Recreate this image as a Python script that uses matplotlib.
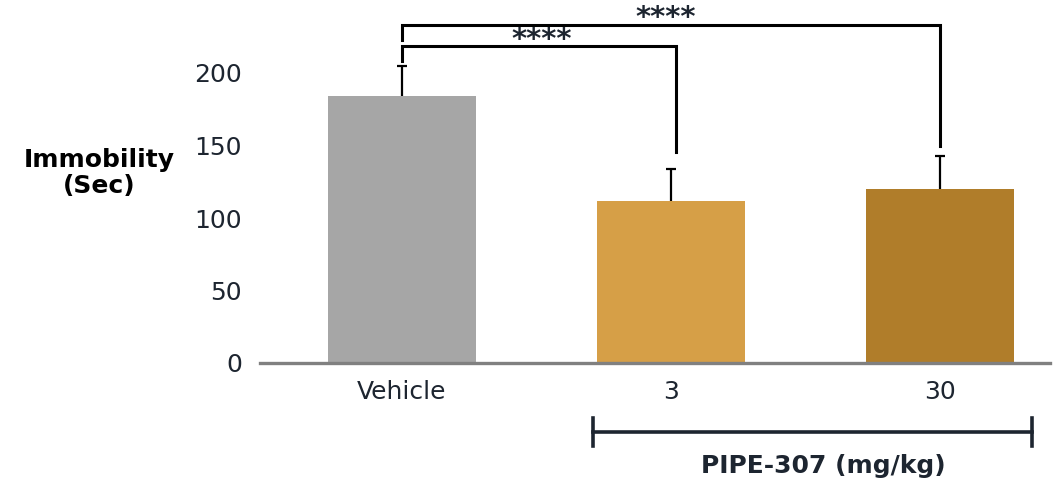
import matplotlib
matplotlib.use("Agg")
import matplotlib.pyplot as plt
import numpy as np

categories = ["Vehicle", "3", "30"]
means = [184, 112, 120]
errors = [21, 22, 23]
colors = ["#A6A6A6", "#D69F47", "#B07D2A"]
yticks = [0, 50, 100, 150, 200]
group_label = "PIPE-307 (mg/kg)"
ylabel = "Immobility\n(Sec)"
sig_label = "****"

plt.rcParams['font.family'] = ['DejaVu Sans']
W, H = 1056, 482
fig = plt.figure(figsize=(W / 100, H / 100), dpi=100)
ax = fig.add_axes([260 / W, (H - 363) / H, 790 / W, 362.5 / H])

x = np.arange(len(categories))
m = np.array(means)
e = np.array(errors)
ax.bar(x, m, width=0.55, color=colors, zorder=2)
ax.vlines(x, m, m + e, color='black', lw=1.6, zorder=3)
ax.plot(x, m + e, ls='none', marker='_', ms=7.5, mew=1.6, color='black', zorder=3)

ax.set_xlim(-0.527, 2.41)
ax.set_ylim(0, 250)
ax.set_yticks(yticks)
ax.set_yticklabels([str(t) for t in yticks], fontsize=18, color="#1d2530")
ax.set_xticks(x)
ax.set_xticklabels(categories, fontsize=18, color="#1d2530")
ax.tick_params(axis='both', length=0)
ax.tick_params(axis='y', pad=13)
ax.tick_params(axis='x', pad=12)
for s in ['top', 'right', 'left']:
    ax.spines[s].set_visible(False)
ax.spines['bottom'].set_color('#808080')
ax.spines['bottom'].set_linewidth(2.4)

# y label
fig.text(99 / W, 1 - 173 / H, ylabel, ha='center', va='center',
         fontsize=18, fontweight='bold', color='black', linespacing=1.15)

# significance brackets
def bracket(x0, x1, y, y0, y1, label, lx, ly):
    ax.plot([x0, x0, x1, x1], [y0, y, y, y1], color='black', lw=2.2,
            clip_on=False, zorder=4, solid_joinstyle='miter')
    ax.text(lx, ly, label, ha='center', va='baseline', fontsize=21,
            fontweight='bold', color='#1d2530', clip_on=False)

bracket(0, 2, 233, 223, 150, sig_label, 0.983, 232.5)
bracket(0, 1.02, 218.6, 208, 145.5, sig_label, 0.519, 217.5)

# group bracket below axis
t = ax.get_xaxis_transform()
gx0, gx1 = 0.712, 2.344
ly = -69 / 362.5
ax.plot([gx0, gx1], [ly, ly], color='#1d2530', lw=2.6, transform=t, clip_on=False)
for gx in (gx0, gx1):
    ax.plot([gx, gx], [ly - 14 / 362.5, ly + 14 / 362.5], color='#1d2530', lw=2.6,
            transform=t, clip_on=False)
ax.text(1.567, -103 / 362.5, group_label, transform=t, ha='center',
        va='center', fontsize=18, fontweight='bold', color='#1d2530', clip_on=False)

fig.savefig("out.png", dpi=100)
